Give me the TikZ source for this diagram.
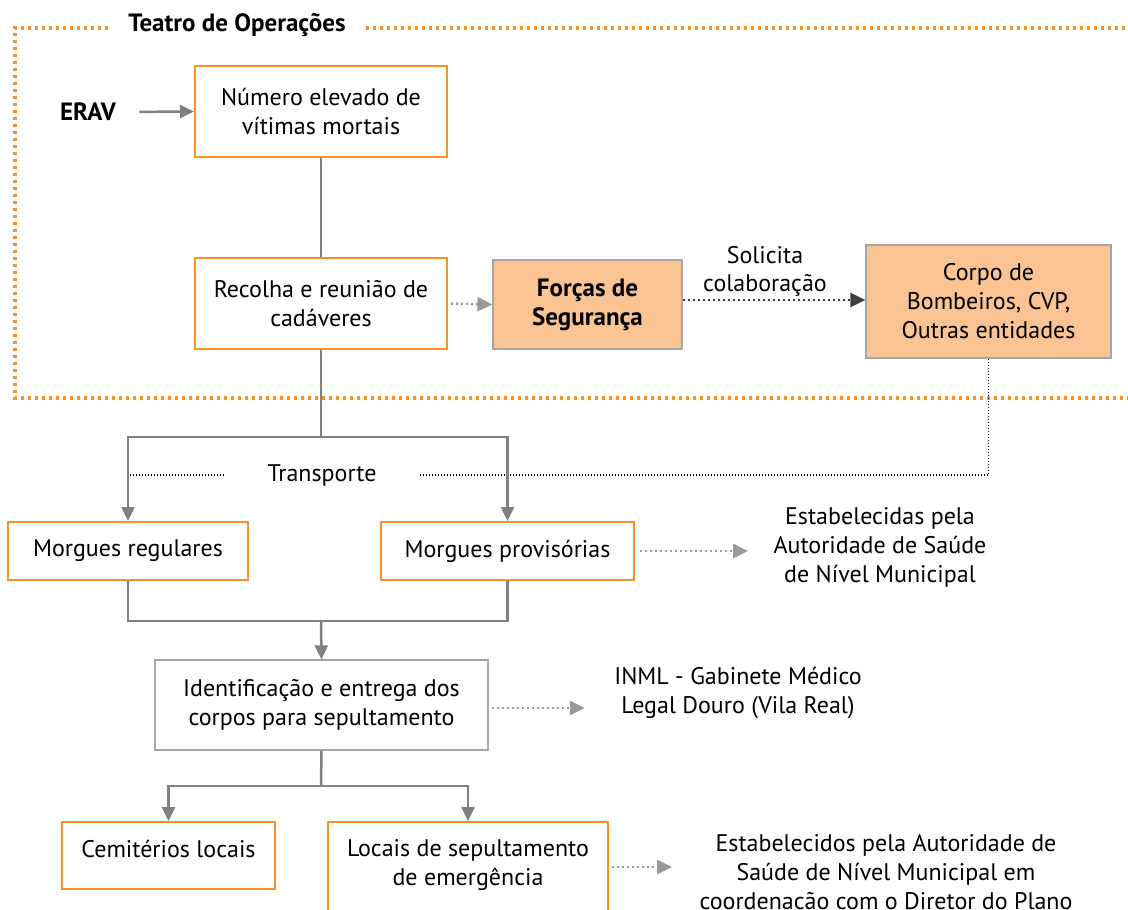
\documentclass[tikz,border=0pt]{standalone}
\usepackage{fontspec}
\setmainfont{PT Sans}
\usepackage{tikz}
\usetikzlibrary{arrows.meta, calc}
\definecolor{laranja}{HTML}{F7922A}
\definecolor{pessego}{HTML}{F9C393}
\definecolor{cinzal}{HTML}{808080}
\definecolor{cinzab}{HTML}{A6A6A6}
\definecolor{cinzap}{HTML}{999999}
\definecolor{escuro}{HTML}{404040}

\begin{document}
\begin{tikzpicture}[x=1pt, y=-1pt,
    font=\fontsize{24}{29}\selectfont,
    negrito/.style={font=\fontsize{25}{29}\selectfont\bfseries},
    caixa/.style={draw=laranja, line width=2pt, align=center, inner sep=0pt},
    caixac/.style={draw=cinzab, line width=1.2pt, align=center, inner sep=0pt},
    caixap/.style={caixac, fill=pessego},
    liga/.style={draw=cinzal, line width=2.5pt},
    seta/.style={liga, -{Triangle[length=14pt, width=13pt]}},
    pont/.style={draw=cinzap, line width=2.5pt, dash pattern=on 2pt off 3pt, -{Triangle[length=15pt, width=14pt]}},
    pontesc/.style={pont, draw=escuro, fill=escuro},
    transp/.style={draw=black, line width=1.2pt, dash pattern=on 1.2pt off 1.8pt},
    moldura/.style={draw=laranja, line width=3.5pt, dash pattern=on 3.5pt off 3.5pt}]
    \clip (0,0) rectangle (1128,910);

    % teatro de operacoes
    \node[negrito, inner xsep=20pt] at (237,25) (teatro) {Teatro de Operações};
    \draw[moldura] (teatro.west |- 0,28) -- (15,28) -- (15,398) -- (1140,398);
    \draw[moldura] (teatro.east |- 0,28) -- (1140,28);

    \node[negrito] at (88,112) (erav) {ERAV};
    \node[caixa, minimum width=252pt, minimum height=91pt] at (321,111.5) (num) {Número elevado de\\vítimas mortais};
    \node[caixa, minimum width=252pt, minimum height=91pt] at (321,303.5) (recolha) {Recolha e reunião de\\cadáveres};
    \node[caixap, minimum width=189pt, minimum height=89pt, negrito] at (587.5,304.5) (forcas) {Forças de\\Segurança};
    \node[caixap, minimum width=245pt, minimum height=113pt] at (988.5,301.5) (corpo) {Corpo de\\Bombeiros, CVP,\\Outras entidades};
    \node[align=center, font=\fontsize{24}{28}\selectfont] at (765,271) (solicita) {Solicita\\colaboração};

    \draw[seta] (erav.east) [shorten <=20pt] -- (num.west);
    \draw[liga] (num.south) -- (recolha.north);
    \draw[pont] (recolha.east) [shorten <=3pt] -- (forcas.west);
    \draw[pontesc] ([yshift=4.5pt]forcas.east) -- ([yshift=4.5pt]forcas.east -| corpo.west);

    % transporte
    \node[minimum width=196pt] at (322,475) (transporte) {Transporte};
    \node[caixa, minimum width=240pt, minimum height=58pt] at (128,551) (mreg) {Morgues regulares};
    \node[caixa, minimum width=253pt, minimum height=58pt] at (507.5,551) (mprov) {Morgues provisórias};
    \node[align=center] at (880,547) (estab1) {Estabelecidas pela\\Autoridade de Saúde\\de Nível Municipal};

    \draw[transp] (corpo.south) |- (transporte.east);
    \draw[transp] (transporte.west) -- (transporte.west -| mreg.north);
    \coordinate (div1) at (321,437);
    \draw[liga] (recolha.south) -- (div1);
    \draw[seta] (div1) -| (mreg.north);
    \draw[seta] (div1) -| (mprov.north);
    \draw[pont] (mprov.east) [shorten <=5pt, shorten >=22pt] -- (mprov.east -| estab1.west);

    % identificacao
    \node[caixac, minimum width=333pt, minimum height=90pt] at (321.5,705) (ident) {Identificação e entrega dos\\corpos para sepultamento};
    \node[align=center] at (738,693) (inml) {INML - Gabinete Médico\\Legal Douro (Vila Real)};
    \coordinate (jun1) at (321,621);
    \draw[liga] (mreg.south) |- (jun1);
    \draw[liga] (mprov.south) |- (jun1);
    \draw[seta] (jun1) -- (ident.north);
    \draw[pont] ([yshift=-3pt]ident.east) [shorten <=3pt, shorten >=26pt] -- ([yshift=-3pt]ident.east -| inml.west);

    % sepultamento
    \node[caixa, minimum width=213pt, minimum height=67pt] at (168.5,855.5) (cemit) {\raisebox{14pt}{Cemitérios locais}};
    \node[caixa, minimum width=280pt, minimum height=110pt] at (468,877) (locais) {Locais de sepultamento\\de emergência\\ };
    \node[align=center] at (886,872) (estab2) {Estabelecidos pela Autoridade de\\Saúde de Nível Municipal em\\coordenacão com o Diretor do Plano};
    \coordinate (div2) at (321,786);
    \draw[liga] (ident.south) -- (div2);
    \draw[seta] (div2) -| (cemit.north);
    \draw[seta] (div2) -| (locais.north);
    \draw[pont] ([yshift=10pt]locais.east) [shorten <=3pt, shorten >=24pt] -- ([yshift=10pt]locais.east -| estab2.west);
\end{tikzpicture}
\end{document}
